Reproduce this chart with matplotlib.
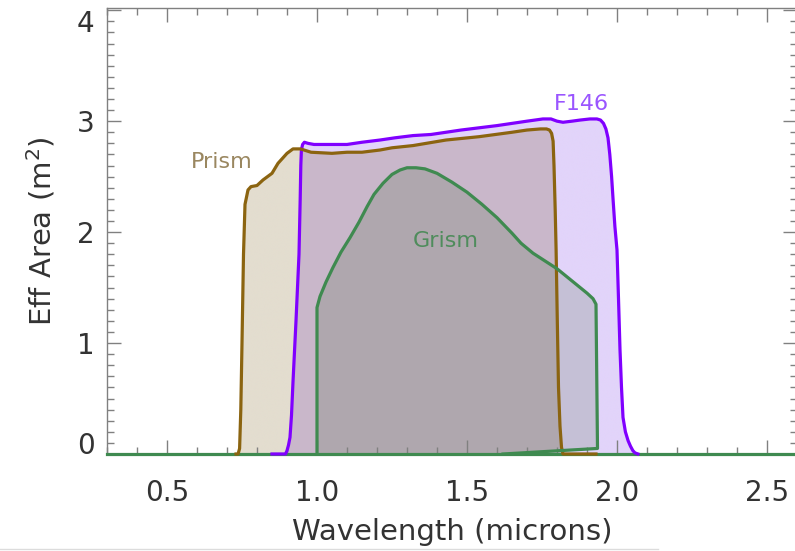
import numpy as np
import matplotlib
matplotlib.use("Agg")
import matplotlib.pyplot as plt
from matplotlib.path import Path
from matplotlib.lines import Line2D
from matplotlib.ticker import MultipleLocator, FormatStrFormatter

# ---------------- data ----------------
prism_x = [0.73, 0.737, 0.742, 0.746, 0.75, 0.755, 0.76, 0.77, 0.78, 0.80, 0.82, 0.85,
           0.87, 0.90, 0.92, 0.945, 0.98, 1.05, 1.10, 1.15, 1.21, 1.25, 1.32, 1.43,
           1.54, 1.65, 1.70, 1.745, 1.765, 1.775, 1.782, 1.787, 1.790, 1.794, 1.797,
           1.801, 1.805, 1.81, 1.815, 1.82, 1.93]
prism_y = [0.0, 0.0, 0.05, 0.4, 1.0, 1.8, 2.25, 2.38, 2.41, 2.42, 2.47, 2.53,
           2.62, 2.71, 2.75, 2.75, 2.72, 2.71, 2.72, 2.72, 2.74, 2.76, 2.78, 2.83,
           2.86, 2.90, 2.92, 2.93, 2.93, 2.92, 2.89, 2.82, 2.6, 2.2, 1.84,
           1.2, 0.6, 0.25, 0.06, 0.0, 0.0]

f146_x = [0.85, 0.895, 0.90, 0.905, 0.91, 0.915, 0.92, 0.93, 0.94, 0.944, 0.946,
          0.948, 0.952, 0.958, 0.97, 0.99, 1.03, 1.07, 1.10, 1.15, 1.21, 1.26,
          1.32, 1.38, 1.43, 1.48, 1.54, 1.60, 1.65, 1.70, 1.753, 1.78, 1.80,
          1.82, 1.85, 1.877, 1.91, 1.933, 1.945, 1.955, 1.963, 1.970, 1.976,
          1.982, 1.987, 1.993, 2.0, 2.005, 2.01, 2.015, 2.02, 2.028, 2.037,
          2.045, 2.053, 2.06, 2.07]
f146_y = [0.0, 0.0, 0.03, 0.08, 0.15, 0.35, 0.65, 1.2, 1.8, 2.3, 2.6,
          2.74, 2.79, 2.81, 2.80, 2.79, 2.79, 2.79, 2.79, 2.81, 2.83, 2.85,
          2.87, 2.88, 2.90, 2.92, 2.94, 2.96, 2.98, 3.00, 3.02, 3.02, 3.00,
          2.99, 3.00, 3.01, 3.02, 3.02, 3.01, 2.98, 2.93, 2.85, 2.70,
          2.50, 2.29, 2.05, 1.84, 1.40, 0.94, 0.60, 0.33, 0.20, 0.12,
          0.07, 0.03, 0.01, 0.0]

grism_x = [1.0, 1.0, 1.01, 1.03, 1.053, 1.08, 1.11, 1.14, 1.167, 1.19, 1.22, 1.25,
           1.277, 1.30, 1.33, 1.36, 1.40, 1.45, 1.50, 1.55, 1.60, 1.65, 1.68,
           1.72, 1.76, 1.80, 1.85, 1.90, 1.92, 1.93, 1.935, 1.62]
grism_y = [0.0, 1.32, 1.42, 1.55, 1.68, 1.82, 1.95, 2.09, 2.23, 2.34, 2.44, 2.52,
           2.56, 2.58, 2.58, 2.57, 2.53, 2.45, 2.36, 2.25, 2.13, 1.99, 1.90,
           1.81, 1.74, 1.67, 1.56, 1.45, 1.40, 1.35, 0.05, 0.0]

x_ticks = [0.5, 1.0, 1.5, 2.0, 2.5]
y_ticks = [0, 1, 2, 3, 4]

labels = ["Prism", "F146", "Grism"]
label_pos = [(0.683, 2.577), (1.882, 3.10), (1.43, 1.865)]

# ---------------- style ----------------
c_prism = "#8b6410"
c_f146 = "#8000ff"
c_grism = "#3f8a50"
fill_prism = np.array([227, 221, 207]) / 255.0
fill_f146 = np.array([226, 212, 250]) / 255.0
fill_grism = np.array([223, 232, 219]) / 255.0
txt_prism = "#9a8760"
txt_f146 = "#9a55ff"
txt_grism = "#4f8c5c"
text_col = "#333333"
axis_col = "#808080"

fig = plt.figure(figsize=(7.95, 5.51), dpi=100)
ax = fig.add_axes([107 / 795, 97 / 551, 690 / 795, 446 / 551])
xlim = (0.3, 2.6)
ylim = (0.0, 4.02)

# multiplicative (overlapping) fills rendered as an image in data coordinates
nx, ny = 1400, 900
gx = np.linspace(xlim[0], xlim[1], nx)
gy = np.linspace(ylim[0], ylim[1], ny)
GX, GY = np.meshgrid(gx, gy)
pts = np.column_stack([GX.ravel(), GY.ravel()])
img = np.ones((ny * nx, 3))
for xs, ys, col in [(prism_x, prism_y, fill_prism),
                    (f146_x, f146_y, fill_f146),
                    (grism_x, grism_y, fill_grism)]:
    verts = np.column_stack([list(xs) + [xs[0]], list(ys) + [ys[0]]])
    mask = Path(verts).contains_points(pts)
    img[mask] *= col
img = img.reshape(ny, nx, 3)
ax.imshow(img, extent=(xlim[0], xlim[1], ylim[0], ylim[1]), origin="lower",
          aspect="auto", interpolation="antialiased", zorder=1)

lw = 2.3
ax.axhline(0, color=c_grism, lw=lw, zorder=3, clip_on=False)
ax.plot(f146_x, f146_y, color=c_f146, lw=lw, zorder=4, clip_on=False,
        solid_joinstyle="round")
ax.plot(prism_x, prism_y, color=c_prism, lw=lw, zorder=5, clip_on=False,
        solid_joinstyle="round")
ax.plot(grism_x, grism_y, color=c_grism, lw=lw, zorder=6, clip_on=False,
        solid_joinstyle="round")

for lab, (lx, ly), col in zip(labels, label_pos, [txt_prism, txt_f146, txt_grism]):
    ax.text(lx, ly, lab, color=col, fontsize=16, ha="center", va="baseline", zorder=7)

ax.set_xlim(*xlim)
ax.set_ylim(*ylim)
ax.set_xticks(x_ticks)
ax.set_yticks(y_ticks)
ax.xaxis.set_major_formatter(FormatStrFormatter("%.1f"))
ax.xaxis.set_minor_locator(MultipleLocator(0.1))
ax.yaxis.set_minor_locator(MultipleLocator(0.1))

for sp in ax.spines.values():
    sp.set_color(axis_col)
    sp.set_linewidth(1.0)

ax.tick_params(which="both", direction="in", top=True, right=True,
               color=axis_col, labelcolor=text_col, labelsize=20)
ax.tick_params(which="major", length=10, width=1.0)
ax.tick_params(which="minor", length=5, width=1.0)
ax.tick_params(axis="x", which="both", pad=18)
ax.tick_params(axis="y", which="both", pad=9)

ylabs = ax.get_yticklabels()
ylabs[0].set_va("baseline")
ylabs[-1].set_va("top")

ax.set_xlabel("Wavelength (microns)", fontsize=21, color=text_col, labelpad=8)
ax.set_ylabel("Eff Area (m$^2$)", fontsize=21, color=text_col, labelpad=14)

fig.add_artist(Line2D([0, 658 / 795], [2.5 / 551, 2.5 / 551], color="#dcdcdc", lw=1.0))

fig.savefig("out.png", dpi=100)
